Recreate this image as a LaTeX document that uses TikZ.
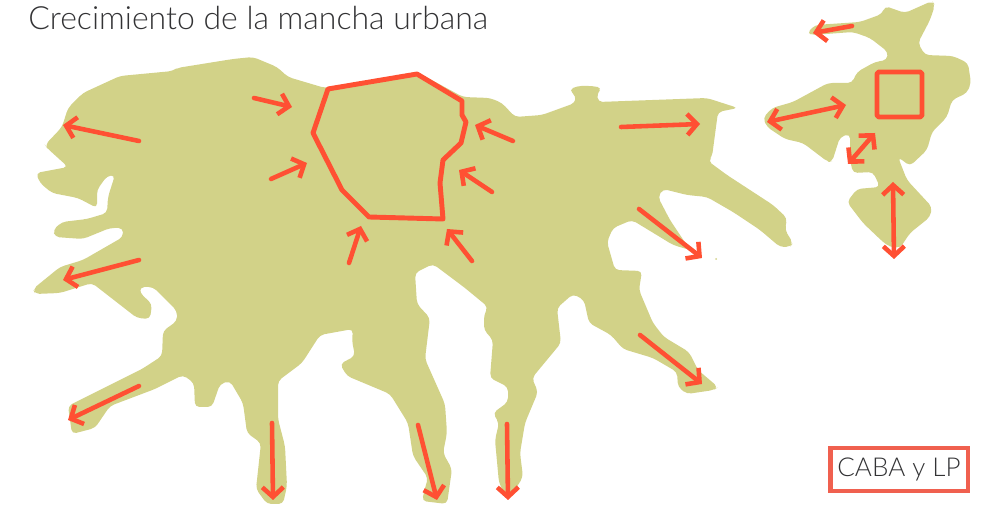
\documentclass[tikz,border=0pt]{standalone}
\usepackage{fontspec}
\setmainfont{Lato}[UprightFont=* Light]
\usepackage{tikz}
\usepackage{xcolor}
\usetikzlibrary{arrows.meta}

\definecolor{mancha}{HTML}{D2D288}
\definecolor{flecha}{HTML}{FF5033}
\definecolor{recuadro}{HTML}{F0604F}
\definecolor{texto}{HTML}{333335}

\tikzset{
  mancha/.style={fill=mancha, rounded corners=2.5pt},
  limite/.style={draw=flecha, line width=2.8pt, line join=round},
  flechita/.style={draw=flecha, line width=2.6pt, line cap=round, -{Straight Barb[length=5.5pt,width=12pt,line width=2.6pt]}},
  doble/.style={flechita, {Straight Barb[length=5.5pt,width=12pt,line width=2.6pt]}-{Straight Barb[length=5.5pt,width=12pt,line width=2.6pt]}},
  titulo/.style={text=texto, anchor=west, inner sep=0pt, font=\fontsize{18.2}{20}\selectfont},
  etiqueta/.style={draw=recuadro, line width=2.3pt, text=texto, inner sep=0pt, minimum width=78pt, minimum height=24.4pt, font=\fontsize{14.8}{17}\selectfont}
}

\begin{document}
\begin{tikzpicture}[x=0.02cm, y=-0.02cm]
\useasboundingbox (0,0) rectangle (998,506);

% mancha grande
\fill[mancha] (233,59) -- (253,57) -- (277,67) -- (288,77) -- (325,88) -- (417,72) -- (463,97)
  -- (490,98) -- (502,103) -- (515,117) -- (542,115) -- (575,103) -- (576,96) -- (569,90)
  -- (577,86) -- (593,86) -- (602,88) -- (597,93) -- (598,102) -- (707,98) -- (738,108)
  -- (718,112) -- (712,157) -- (708,161) -- (727,175) -- (773,205) -- (787,218) -- (785,230)
  -- (793,243) -- (790,247) -- (780,247) -- (760,230) -- (733,212) -- (707,197) -- (687,195)
  -- (663,189) -- (658,197) -- (670,220) -- (682,238) -- (690,250) -- (673,245) -- (660,237)
  -- (632,220) -- (613,228) -- (607,242) -- (615,270) -- (642,271) -- (639,290) -- (653,323)
  -- (664,337) -- (689,352) -- (698,370) -- (718,387) -- (714,390) -- (687,394) -- (678,387)
  -- (677,372) -- (653,358) -- (623,349) -- (611,335) -- (589,323) -- (584,300) -- (573,294)
  -- (557,308) -- (561,343) -- (532,378) -- (538,392) -- (525,423) -- (520,453) -- (523,477)
  -- (513,493) -- (506,497) -- (499,483) -- (495,440) -- (499,423) -- (493,413) -- (508,402)
  -- (508,387) -- (490,378) -- (493,340) -- (484,330) -- (484,315) -- (488,307) -- (465,288)
  -- (433,264) -- (415,273) -- (417,304) -- (430,318) -- (425,359) -- (445,404) -- (447,433)
  -- (443,453) -- (452,469) -- (447,504) -- (422,501) -- (425,488) -- (428,478) -- (413,456)
  -- (408,423) -- (390,394) -- (347,376) -- (340,364) -- (355,356) -- (352,341) -- (353,329)
  -- (320,335) -- (302,363) -- (278,381) -- (278,419) -- (285,446) -- (287,486) -- (283,504)
  -- (267,504) -- (256,489) -- (261,443) -- (247,433) -- (243,403) -- (230,381) -- (220,384)
  -- (212,407) -- (195,407) -- (194,383) -- (183,375) -- (155,389) -- (110,406) -- (95,428)
  -- (72,434) -- (68,406) -- (142,369) -- (162,356) -- (163,331) -- (177,321) -- (177,311)
  -- (153,287) -- (140,287) -- (140,293) -- (152,304) -- (150,319) -- (137,318) -- (92,283)
  -- (60,293) -- (35,294) -- (33,289) -- (60,267) -- (83,260) -- (123,237) -- (123,228)
  -- (110,228) -- (83,239) -- (55,237) -- (53,230) -- (62,222) -- (87,219) -- (107,213)
  -- (108,197) -- (115,175) -- (107,176) -- (97,190) -- (97,208) -- (78,198) -- (52,193)
  -- (40,183) -- (36,173) -- (68,167) -- (47,148) -- (45,145) -- (62,127) -- (68,108)
  -- (83,93) -- (120,76) -- (173,71) -- (177,68) -- cycle;
\fill[mancha] (716,259) circle (1);

% mancha chica
\fill[mancha] (807,33) -- (815,25) -- (860,22) -- (882,14) -- (885,6) -- (905,13) -- (932,1)
  -- (935,5) -- (930,20) -- (918,43) -- (925,55) -- (953,56) -- (968,63) -- (971,83) -- (967,93)
  -- (952,100) -- (947,117) -- (932,132) -- (927,150) -- (910,166) -- (898,157) -- (907,180)
  -- (932,207) -- (930,217) -- (910,233) -- (900,248) -- (890,247) -- (883,242) -- (863,223)
  -- (847,202) -- (857,189) -- (880,187) -- (873,172) -- (853,173) -- (850,160) -- (850,134)
  -- (840,137) -- (832,162) -- (828,162) -- (803,143) -- (785,139) -- (767,127) -- (763,118)
  -- (772,108) -- (793,102) -- (828,83) -- (852,83) -- (857,72) -- (875,62) -- (887,60)
  -- (888,52) -- (870,38) -- (853,32) -- (813,35) -- cycle;

% limites
\draw[limite] (328,89) -- (417,74) -- (462,101) -- (462,115) -- (466,122) -- (461,143)
  -- (443,160) -- (440,183) -- (443,219) -- (369,217) -- (342,190) -- (313,133) -- cycle;
\draw[limite, rounded corners=1pt] (877,72) rectangle (922,117);

% flechas
\foreach \nombre/\ax/\ay/\bx/\by in {o1/139/141/63/125, o2/139/260/63/280, o3/139/386/68/420,
  s1/272/423/273/500, s2/418/425/437/500, s3/507/424/508/500, e1/640/335/702/384,
  e2/639/209/702/258, e3/621/127/700/124, i1/254/98/292/107, i2/271/179/307/163,
  i3/349/263/361/226, i4/472/261/447/229, i5/492/192/459/170, i6/513/141/475/125,
  n1/852/26/813/33} {
  \coordinate (\nombre a) at (\ax,\ay);
  \coordinate (\nombre b) at (\bx,\by);
  \draw[flechita] (\nombre a) -- (\nombre b);
}
\foreach \nombre/\ax/\ay/\bx/\by in {d1/767/122/846/105, d2/848/164/875/133, d3/893/182/894/259} {
  \coordinate (\nombre a) at (\ax,\ay);
  \coordinate (\nombre b) at (\bx,\by);
  \draw[doble] (\nombre a) -- (\nombre b);
}

\node[titulo] (tit) at (28,18) {Crecimiento de la mancha urbana};
\node[etiqueta] (caba) at (899,469.5) {CABA y LP};
\end{tikzpicture}
\end{document}
